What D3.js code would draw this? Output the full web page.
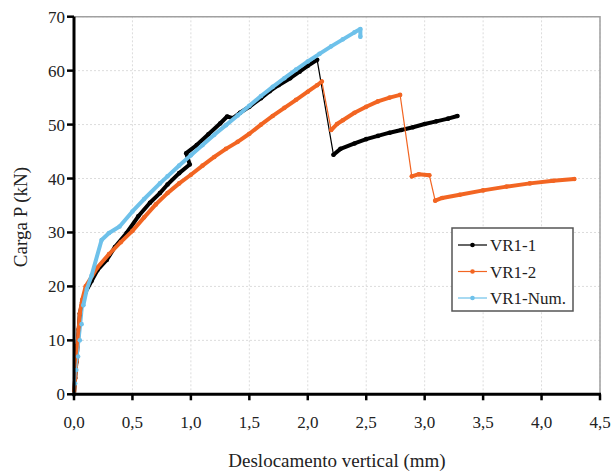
<!DOCTYPE html>
<html><head><meta charset="utf-8">
<script src="https://cdn.jsdelivr.net/npm/d3@7"></script>
<style>body{margin:0;background:#fff}</style>
</head><body><svg id="c" width="613" height="472"></svg>
<script>
const xTicks = [0,0.5,1.0,1.5,2.0,2.5,3.0,3.5,4.0,4.5];
const yTicks = [0,10,20,30,40,50,60,70];
const seriesNames = ["VR1-1","VR1-2","VR1-Num."];
const seriesColors = ["#000000","#f26522","#6ec1ea"];
const vr11 = [[0,0],[0.01,3],[0.02,6],[0.03,9],[0.04,12],[0.05,15],[0.07,17],[0.1,19],[0.15,21],[0.2,23],[0.28,24.9],[0.35,27.3],[0.45,29.9],[0.55,33],[0.65,35.5],[0.735,37.3],[0.8,38.9],[0.9,41],[0.99,42.6],[0.96,44.7],[1.05,46.2],[1.15,48.2],[1.25,50.2],[1.31,51.5],[1.36,51.2],[1.42,52.2],[1.5,53.3],[1.6,54.9],[1.675,56.2],[1.75,57.3],[1.85,58.6],[1.93,59.8],[2.0,60.9],[2.08,62.0],[2.22,44.4],[2.28,45.5],[2.4,46.5],[2.5,47.3],[2.6,47.9],[2.7,48.5],[2.8,49.0],[2.9,49.5],[3.0,50.1],[3.1,50.6],[3.2,51.1],[3.28,51.6]];
const vr12 = [[0,0],[0.01,3],[0.02,6],[0.03,9],[0.04,12],[0.05,15],[0.07,17.5],[0.1,20],[0.2,23.5],[0.3,26],[0.4,28.2],[0.5,30.3],[0.6,32.8],[0.7,35.2],[0.8,37.3],[0.9,39.1],[1.0,40.7],[1.1,42.4],[1.2,44],[1.3,45.5],[1.4,46.8],[1.5,48.3],[1.6,50],[1.7,51.6],[1.8,53.1],[1.9,54.6],[2.0,56.1],[2.08,57.3],[2.12,58.0],[2.20,49.0],[2.25,50.1],[2.3,50.8],[2.4,52.2],[2.5,53.3],[2.6,54.3],[2.7,55.0],[2.79,55.5],[2.89,40.4],[2.95,40.8],[3.04,40.6],[3.09,35.9],[3.15,36.4],[3.3,37.0],[3.5,37.8],[3.7,38.5],[3.9,39.1],[4.1,39.6],[4.28,39.9]];
const vr1num = [[0,0],[0.01,2],[0.02,4.5],[0.035,7],[0.05,10],[0.065,13],[0.08,16.5],[0.11,19.5],[0.15,22],[0.236,28.6],[0.3,29.9],[0.39,31.1],[0.5,33.9],[0.6,36.2],[0.735,39.1],[0.8,40.4],[0.9,42.4],[1.0,44.3],[1.1,46.2],[1.2,48.1],[1.3,49.9],[1.4,51.7],[1.5,53.5],[1.6,55.3],[1.7,57.0],[1.8,58.6],[1.9,60.2],[2.0,61.7],[2.1,63.1],[2.2,64.5],[2.3,65.8],[2.4,67.1],[2.45,67.7],[2.45,66.3]];
const allSeries = [vr11, vr12, vr1num];

const svg = d3.select("#c");
const x = d3.scaleLinear().domain([0,4.5]).range([74,600]);
const y = d3.scaleLinear().domain([0,70]).range([394.3,16.7]);
const font = "'Liberation Serif','Times New Roman',serif";

// grid
const g = svg.append("g");
g.selectAll(".gx").data(xTicks.slice(1)).join("line")
  .attr("x1",d=>x(d)).attr("x2",d=>x(d)).attr("y1",y(0)).attr("y2",y(70))
  .attr("stroke","#dcdcdc").attr("stroke-width",1).attr("stroke-dasharray","2,2");
g.selectAll(".gy").data(yTicks.slice(1)).join("line")
  .attr("x1",x(0)).attr("x2",x(4.5)).attr("y1",d=>y(d)).attr("y2",d=>y(d))
  .attr("stroke","#dcdcdc").attr("stroke-width",1).attr("stroke-dasharray","2,2");
// frame top/right
svg.append("path").attr("d",`M${x(0)},${y(70)}H${x(4.5)}V${y(0)}`)
  .attr("fill","none").attr("stroke","#a0a0a0").attr("stroke-width",1.5);

// series
const line = d3.line().x(d=>x(d[0])).y(d=>y(d[1]));
allSeries.forEach((s,i)=>{
  const col = seriesColors[i];
  svg.append("path").datum(s).attr("d",line).attr("fill","none").attr("stroke",col).attr("stroke-width",1.2);
  const segs=[]; let cur=[];
  s.forEach((p,j)=>{
    if(j>0 && p[1] < s[j-1][1]-2.5){ if(cur.length>1) segs.push(cur); cur=[]; }
    if(i===2 && p[1]<16.5) return;
    cur.push(p);
  });
  if(cur.length>1) segs.push(cur);
  segs.forEach(sg=>{
    svg.append("path").datum(sg).attr("d",line).attr("fill","none").attr("stroke",col)
      .attr("stroke-width",i===2?4:4).attr("stroke-linejoin","round").attr("stroke-linecap","round");
  });
  svg.append("g").selectAll("circle").data(s).join("circle")
    .attr("cx",d=>x(d[0])).attr("cy",d=>y(d[1])).attr("r",2.3).attr("fill",col);
});

// axes
svg.append("line").attr("x1",x(0)).attr("x2",x(0)).attr("y1",y(0)+1.5).attr("y2",y(70)).attr("stroke","#000").attr("stroke-width",3);
svg.append("line").attr("x1",x(0)-1.5).attr("x2",x(4.5)+1).attr("y1",y(0)).attr("y2",y(0)).attr("stroke","#000").attr("stroke-width",3);
svg.selectAll(".tx").data(xTicks).join("line").attr("x1",d=>x(d)).attr("x2",d=>x(d)).attr("y1",y(0)).attr("y2",y(0)+6).attr("stroke","#000").attr("stroke-width",2.5);
svg.selectAll(".ty").data(yTicks).join("line").attr("x1",x(0)-7).attr("x2",x(0)).attr("y1",d=>y(d)).attr("y2",d=>y(d)).attr("stroke","#000").attr("stroke-width",2.5);
svg.selectAll(".lx").data(xTicks).join("text").attr("x",d=>x(d)).attr("y",y(0)+34)
  .attr("text-anchor","middle").attr("font-family",font).attr("font-size",17).attr("fill","#222")
  .text(d=>d.toFixed(1).replace(".",","));
svg.selectAll(".ly").data(yTicks).join("text").attr("x",x(0)-9).attr("y",d=>y(d)+6)
  .attr("text-anchor","end").attr("font-family",font).attr("font-size",17).attr("fill","#222")
  .text(d=>d);
svg.append("text").attr("x",337).attr("y",467).attr("text-anchor","middle").attr("font-family",font).attr("font-size",19).attr("fill","#222").text("Deslocamento vertical (mm)");
svg.append("text").attr("transform","translate(27,217) rotate(-90)").attr("text-anchor","middle").attr("font-family",font).attr("font-size",19).attr("fill","#222").text("Carga P (kN)");

// legend
const lg = svg.append("g");
lg.append("rect").attr("x",452).attr("y",228).attr("width",121).attr("height",83).attr("fill","#fff").attr("stroke","#555").attr("stroke-width",1.5);
seriesNames.forEach((n,i)=>{
  const yy = 245 + i*26.5;
  lg.append("line").attr("x1",458).attr("x2",487).attr("y1",yy).attr("y2",yy).attr("stroke",seriesColors[i]).attr("stroke-width",1.2);
  lg.append("circle").attr("cx",472.5).attr("cy",yy).attr("r",2.3).attr("fill",seriesColors[i]);
  lg.append("text").attr("x",490).attr("y",yy+6).attr("font-family",font).attr("font-size",17).attr("fill","#222").text(n);
});
</script></body></html>
